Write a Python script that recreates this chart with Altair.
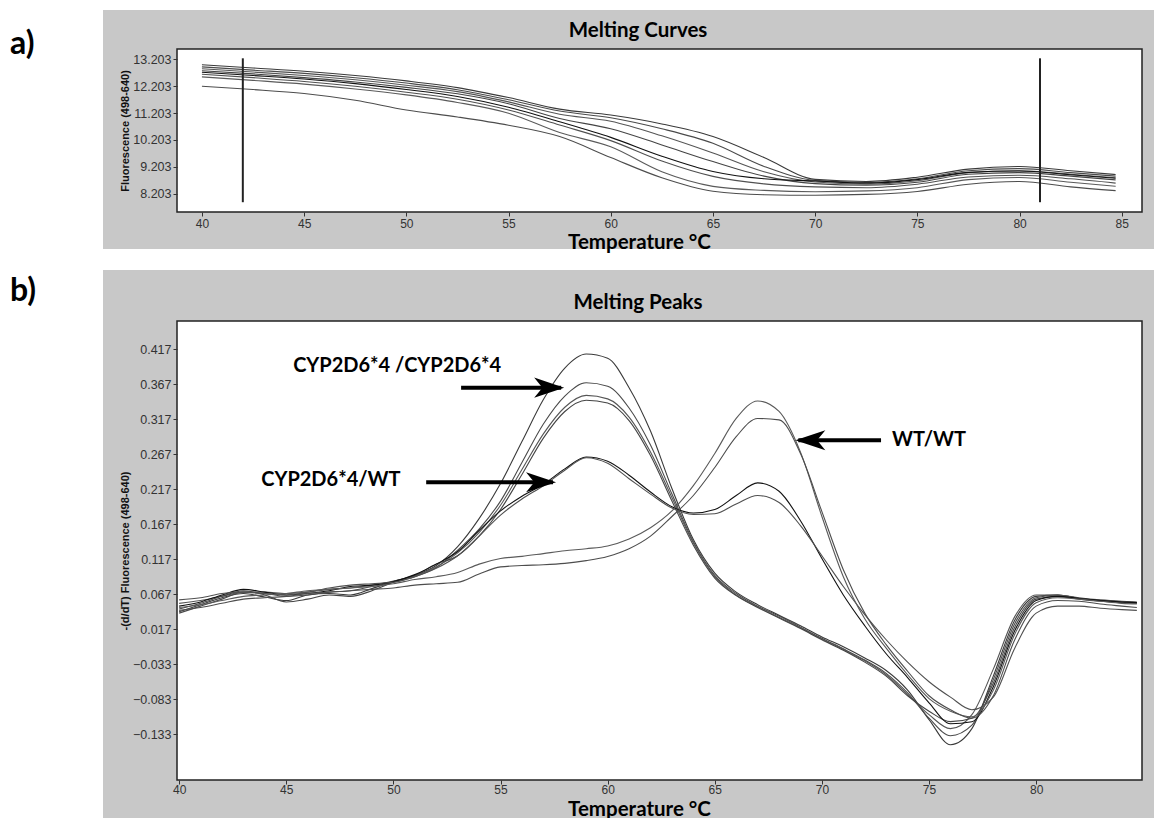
import altair as alt
import pandas as pd

# ---------------- Panel a) Melting Curves ----------------
temp_a = [40, 42.5, 45, 47.5, 50, 52.5, 55, 57.5, 60, 62.5, 65, 67.5, 70, 72.5, 75, 77.5, 80, 82.5, 84.7]
fluor_a1 = [13.00, 12.88, 12.76, 12.60, 12.40, 12.15, 11.78, 11.35, 11.13, 10.80, 10.33, 9.55, 8.74, 8.66, 8.82, 9.12, 9.22, 9.06, 8.92]
fluor_a2 = [12.92, 12.80, 12.68, 12.52, 12.32, 12.07, 11.70, 11.28, 11.03, 10.62, 10.08, 9.22, 8.70, 8.62, 8.76, 9.06, 9.14, 8.99, 8.86]
fluor_a3 = [12.85, 12.73, 12.60, 12.44, 12.24, 12.00, 11.62, 11.16, 10.90, 10.36, 9.72, 9.02, 8.64, 8.56, 8.69, 8.99, 9.06, 8.93, 8.80]
fluor_a4 = [12.78, 12.66, 12.52, 12.36, 12.16, 11.92, 11.55, 11.00, 10.62, 10.02, 9.40, 8.86, 8.58, 8.52, 8.63, 8.93, 8.99, 8.86, 8.72]
fluor_b1 = [12.72, 12.60, 12.47, 12.30, 12.08, 11.82, 11.42, 10.88, 10.30, 9.60, 9.03, 8.76, 8.68, 8.60, 8.73, 9.00, 9.05, 8.91, 8.78]
fluor_b2 = [12.65, 12.52, 12.38, 12.20, 11.98, 11.72, 11.32, 10.76, 10.18, 9.42, 8.85, 8.57, 8.46, 8.43, 8.56, 8.83, 8.89, 8.76, 8.60]
fluor_b3 = [12.55, 12.42, 12.28, 12.10, 11.88, 11.60, 11.20, 10.48, 9.95, 9.02, 8.48, 8.33, 8.28, 8.31, 8.43, 8.73, 8.81, 8.63, 8.48]
fluor_b4 = [12.20, 12.08, 11.93, 11.68, 11.32, 11.06, 10.75, 10.33, 9.55, 8.80, 8.30, 8.17, 8.15, 8.18, 8.29, 8.56, 8.66, 8.46, 8.32]
curve_names_a = ["c1", "c2", "c3", "c4", "c5", "c6", "c7", "c8"]
curve_colors_a = ["#3a3a3a", "#4a4a4a", "#555555", "#444444", "#111111", "#505050", "#5a5a5a", "#4d4d4d"]
yticks_a = [8.203, 9.203, 10.203, 11.203, 12.203, 13.203]
xticks_a = [40, 45, 50, 55, 60, 65, 70, 75, 80, 85]
cursor_temps = [42, 81]
cursor_top = [13.24, 13.24]
cursor_bottom = [7.89, 7.89]

# ---------------- Panel b) Melting Peaks ----------------
temp_b = list(range(40, 85)) + [84.7]
peak_h1 = [.042, .052, .062, .068, .063, .058, .066, .068, .066, .075, .085, .094, .108,
           .135, .175, .225, .285, .345, .390, .410, .404, .362, .300, .218, .145, .097, .070, .052, .037, .022,
           .006, -.008, -.024, -.042, -.070, -.112, -.148, -.125, -.050, .030, .064, .066, .061, .058, .056, .055]
peak_h2 = [.040, .050, .060, .070, .068, .064, .066, .070, .072, .078, .084, .092, .105,
           .130, .160, .200, .255, .310, .350, .369, .364, .333, .280, .210, .142, .094, .068, .050, .036, .020,
           .004, -.011, -.027, -.046, -.074, -.110, -.135, -.120, -.055, .025, .062, .066, .062, .059, .057, .056]
peak_h3 = [.054, .058, .064, .070, .070, .068, .070, .074, .076, .080, .086, .093, .106,
           .126, .155, .194, .245, .296, .334, .351, .346, .320, .270, .205, .140, .092, .066, .049, .034, .019,
           .003, -.012, -.028, -.048, -.076, -.105, -.125, -.105, -.040, .035, .066, .066, .061, .058, .056, .055]
peak_h4 = [.046, .054, .064, .072, .066, .056, .060, .066, .064, .072, .084, .094, .110,
           .122, .150, .188, .238, .290, .328, .344, .340, .315, .265, .200, .137, .090, .065, .048, .033, .018,
           .002, -.013, -.030, -.050, -.078, -.100, -.115, -.110, -.060, .020, .060, .064, .060, .057, .055, .054]
peak_e1 = [.050, .056, .066, .074, .070, .066, .068, .072, .078, .080, .085, .095, .110,
           .128, .158, .186, .207, .224, .246, .263, .257, .237, .213, .192, .183, .188, .208, .226, .214, .172,
           .118, .066, .022, -.018, -.052, -.088, -.118, -.115, -.065, .015, .058, .064, .061, .058, .056, .055]
peak_e2 = [.059, .062, .068, .070, .068, .066, .070, .076, .080, .082, .084, .092, .104,
           .122, .150, .180, .203, .222, .244, .262, .254, .232, .210, .190, .181, .182, .196, .208, .198, .165,
           .122, .078, .038, .002, -.030, -.058, -.080, -.098, -.080, -.010, .040, .050, .050, .047, .045, .044]
peak_w1 = [.048, .052, .058, .064, .066, .068, .072, .074, .076, .078, .082, .088, .092,
           .098, .110, .118, .121, .125, .129, .132, .136, .146, .162, .186, .222, .268, .318, .343, .328, .270,
           .178, .092, .032, -.010, -.048, -.082, -.100, -.108, -.070, .010, .055, .062, .060, .057, .054, .053]
peak_w2 = [.044, .048, .054, .060, .062, .064, .068, .070, .072, .074, .076, .080, .082,
           .084, .096, .106, .108, .109, .111, .115, .121, .132, .150, .178, .208, .248, .292, .318, .316, .268,
           .185, .102, .040, -.005, -.043, -.078, -.098, -.110, -.078, .002, .050, .058, .057, .053, .050, .048]
curve_names_b = ["h1", "h2", "h3", "h4", "e1", "e2", "w1", "w2"]
curve_colors_b = ["#2e2e2e", "#3a3a3a", "#4a4a4a", "#555555", "#333333", "#5e5e5e", "#3c3c3c", "#5a5a5a"]
yticks_b = [-0.133, -0.083, -0.033, 0.017, 0.067, 0.117, 0.167, 0.217, 0.267, 0.317, 0.367, 0.417]
xticks_b = [40, 45, 50, 55, 60, 65, 70, 75, 80]

ann_text = ["CYP2D6*4 /CYP2D6*4", "CYP2D6*4/WT", "WT/WT"]
ann_text_x = [45.32, 43.83, 73.27]
ann_text_y = [0.393, 0.230, 0.287]
arrow_tail_x = [53.16, 51.53, 72.76]
arrow_tip_x = [57.83, 57.45, 68.90]
arrow_y = [0.362, 0.227, 0.287]
HEAD_RIGHT = "M0.2,0 L-1.8,-0.67 L-1.25,0 L-1.8,0.67 Z"
HEAD_LEFT = "M-0.2,0 L1.8,-0.67 L1.25,0 L1.8,0.67 Z"
arrow_head = [HEAD_RIGHT, HEAD_RIGHT, HEAD_LEFT]

# ---------------- build tables ----------------
series_a = [fluor_a1, fluor_a2, fluor_a3, fluor_a4, fluor_b1, fluor_b2, fluor_b3, fluor_b4]
series_b = [peak_h1, peak_h2, peak_h3, peak_h4, peak_e1, peak_e2, peak_w1, peak_w2]
for s in series_a:
    assert len(s) == len(temp_a)
for s in series_b:
    assert len(s) == len(temp_b)

df_a = pd.DataFrame([{"temp": t, "value": v, "curve": n}
                     for n, s in zip(curve_names_a, series_a) for t, v in zip(temp_a, s)])
df_b = pd.DataFrame([{"temp": t, "value": v, "curve": n}
                     for n, s in zip(curve_names_b, series_b) for t, v in zip(temp_b, s)])
df_cursor = pd.DataFrame({"temp": cursor_temps, "value": cursor_top, "value_end": cursor_bottom})
df_text = pd.DataFrame({"temp": ann_text_x, "value": ann_text_y, "label": ann_text})
df_arrow = pd.DataFrame({"temp": arrow_tail_x, "temp_end": arrow_tip_x, "value": arrow_y,
                         "tip": arrow_tip_x, "head": arrow_head})

# ---------------- layout constants ----------------
W = 965
HA = 163
HB = 459
GAP = 109
GRAY = "#c8c8c8"
TITLE_FONT = "Lato"
AX_FONT = "Liberation Sans"
XTITLE = "Temperature °C"


def deco_rect(x1, x2, y1, y2, **mark):
    return alt.Chart(alt.Data(values=[{}])).mark_rect(**mark).encode(
        x=alt.value(x1), x2=alt.value(x2), y=alt.value(y1), y2=alt.value(y2))


def deco_text(txt, x, y, size, align="left"):
    return alt.Chart(alt.Data(values=[{"t": txt}])).mark_text(
        font=TITLE_FONT, fontSize=size, fontWeight="bold", align=align,
        baseline="alphabetic", color="#000").encode(
        x=alt.value(x), y=alt.value(y), text="t:N")


def x_axis(values, title_y, label_pad):
    return alt.Axis(values=values, title=XTITLE, titleFont=TITLE_FONT, titleFontSize=20.5,
                    titleFontWeight="bold", titleColor="#000", titleX=462, titleY=title_y,
                    titleAlign="center", titleBaseline="alphabetic",
                    labelFont=AX_FONT, labelFontSize=12, labelColor="#333", labelPadding=label_pad,
                    labelFlush=False, tickSize=4, tickColor="#333", domain=False, grid=False, zindex=1)


def y_axis(values, title, h):
    return alt.Axis(values=values, format=".3f", title=title, titleFont=AX_FONT, titleFontSize=11,
                    titleFontWeight="bold", titleColor="#111", titleAngle=270, titleX=-52, titleY=h / 2,
                    titleAlign="center", titleBaseline="middle",
                    labelFont=AX_FONT, labelFontSize=12.5, labelColor="#333", labelPadding=2,
                    tickSize=4, tickColor="#333", domain=False, grid=False, zindex=1)


# ---------------- panel a ----------------
xa = alt.X("temp:Q", title=XTITLE,
           scale=alt.Scale(domain=[38.78, 85.99], nice=False, zero=False), axis=x_axis(xticks_a, 36, 2))
ya = alt.Y("value:Q", title="Fluorescence (498-640)",
           scale=alt.Scale(domain=[7.526, 13.586], nice=False, zero=False),
           axis=y_axis(yticks_a, "Fluorescence (498-640)", HA))

lines_a = alt.Chart(df_a).mark_line(interpolate="monotone", strokeWidth=1.1).encode(
    x=xa, y=ya, detail="curve:N",
    color=alt.Color("curve:N", scale=alt.Scale(domain=curve_names_a, range=curve_colors_a), legend=None))
cursor_a = alt.Chart(df_cursor).mark_rule(color="#222", strokeWidth=2).encode(
    x=xa, y=ya, y2="value_end:Q")

panel_a = alt.layer(
    deco_rect(-177, 987, -49, 769, color="white"),
    deco_rect(-74, 977, -39, 200, color=GRAY),
    deco_rect(0, W, 0, HA, color="white"),
    lines_a,
    cursor_a,
    deco_rect(0, W, 0, HA, fillOpacity=0, stroke="#222", strokeWidth=1.5),
    deco_text("a)", -167, 5, 32),
    deco_text("Melting Curves", 461, -12, 20.5, align="center"),
).properties(width=W, height=HA)

# ---------------- panel b ----------------
xb = alt.X("temp:Q", title=XTITLE,
           scale=alt.Scale(domain=[39.9, 84.94], nice=False, zero=False), axis=x_axis(xticks_b, 35, 0))
yb = alt.Y("value:Q", title="-(d/dT) Fluorescence (498-640)",
           scale=alt.Scale(domain=[-0.1983, 0.4572], nice=False, zero=False),
           axis=y_axis(yticks_b, "-(d/dT) Fluorescence (498-640)", HB))

lines_b = alt.Chart(df_b).mark_line(interpolate="monotone", strokeWidth=1.1).encode(
    x=xb, y=yb, detail="curve:N",
    color=alt.Color("curve:N", scale=alt.Scale(domain=curve_names_b, range=curve_colors_b), legend=None))
arrow_shaft = alt.Chart(df_arrow).mark_rule(color="#000", strokeWidth=4).encode(
    x=xb, x2="temp_end:Q", y=yb)
arrow_heads = alt.Chart(df_arrow).mark_point(filled=True, color="#000", size=900, opacity=1,
                                             strokeWidth=0).encode(
    x=alt.X("tip:Q", title=XTITLE), y=yb, shape=alt.Shape("head:N", scale=None))
ann = alt.Chart(df_text).mark_text(font=TITLE_FONT, fontSize=20, fontWeight="bold", align="left",
                                   baseline="middle", color="#000").encode(x=xb, y=yb, text="label:N")

panel_b = alt.layer(
    deco_rect(-74, 977, -51, 497, color=GRAY),
    deco_rect(0, W, 0, HB, color="white"),
    lines_b,
    arrow_shaft,
    arrow_heads,
    ann,
    deco_rect(0, W, 0, HB, fillOpacity=0, stroke="#222", strokeWidth=1.5),
    deco_text("b)", -167, -20, 32),
    deco_text("Melting Peaks", 461, -12, 20.5, align="center"),
).properties(width=W, height=HB)

chart = alt.vconcat(panel_a, panel_b, spacing=GAP, bounds="flush").properties(
    padding={"left": 0, "top": 0, "right": 0, "bottom": 0}, background="white"
).configure_view(strokeWidth=0)

chart.save("out.html", embed_options={"renderer": "svg", "actions": False})
